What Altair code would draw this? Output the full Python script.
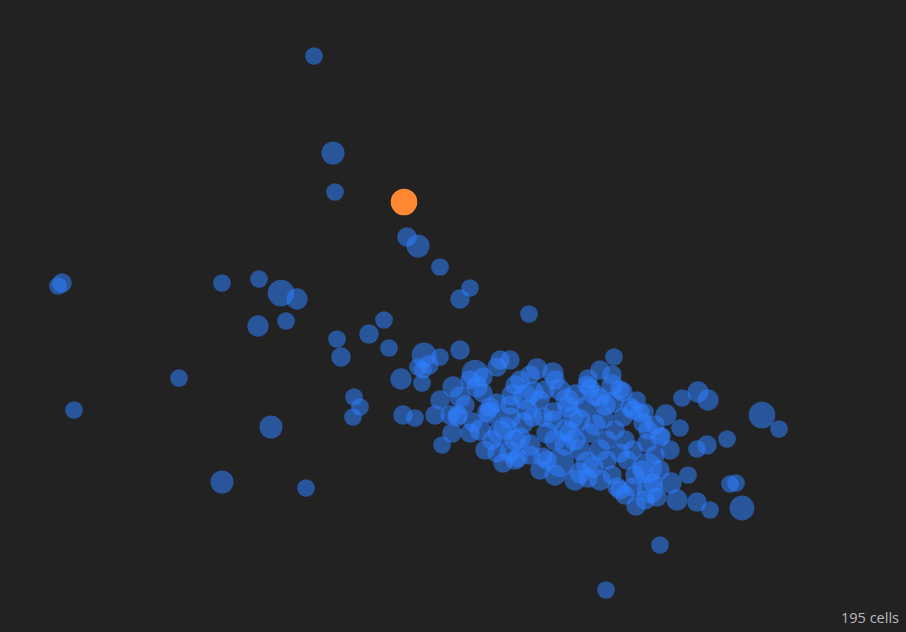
import altair as alt
import pandas as pd

# embedding coordinates (arbitrary units)
umap_1 = [
    31.4, 33.3, 33.5, 40.4, 40.7, 41.8, 44.0, 5.8, 6.2, 22.2,
    25.9, 28.1, 29.7, 47.0, 46.0, 52.9, 25.8, 28.6, 33.7, 34.1,
    36.9, 38.4, 38.9, 42.4, 44.0, 42.3, 41.8, 42.2, 40.1, 17.9,
    7.4, 27.1, 22.2, 30.6, 35.4, 36.0, 35.3, 40.3, 41.5, 44.2,
    46.0, 61.4, 60.6, 66.0, 76.2, 77.9, 74.2, 71.0, 69.7, 67.7,
    67.1, 68.8, 73.0, 73.6, 72.7, 69.7, 70.7, 68.0, 66.2, 66.6,
    68.2, 69.8, 70.8, 64.5, 63.7, 64.7, 65.0, 50.0, 49.7, 47.5,
    48.3, 45.3, 46.0, 47.7, 48.3, 49.0, 49.7, 51.2, 51.5, 45.0,
    45.8, 48.7, 51.0, 53.7, 55.3, 55.5, 58.8, 58.7, 61.2, 61.2,
    62.3, 52.0, 52.5, 53.3, 56.7, 56.8, 58.5, 60.0, 61.3, 55.3,
    63.0, 45.2, 47.0, 45.7, 49.0, 47.3, 50.0, 49.7, 50.3, 51.0,
    52.0, 53.0, 52.3, 53.3, 54.3, 54.3, 54.7, 55.3, 57.3, 57.0,
    59.0, 60.3, 62.3, 64.0, 64.3, 66.0, 56.0, 58.7, 59.3, 60.7,
    62.0, 63.3, 62.7, 62.0, 63.3, 65.3, 65.7, 54.7, 58.0, 60.7,
    64.7, 63.3, 62.0, 64.3, 51.0, 42.9, 50.5, 51.5, 49.2, 52.7,
    54.0, 54.5, 56.0, 57.5, 59.5, 60.5, 58.0, 59.5, 61.5, 62.5,
    60.0, 58.0, 56.5, 55.5, 54.0, 57.5, 60.0, 61.2, 63.5, 62.5,
    63.6, 64.5, 66.0, 65.5, 67.0, 65.5, 60.0, 59.0, 53.0, 51.0,
    48.0, 48.5, 51.5, 53.0, 51.8, 46.5, 47.0, 44.0, 43.5, 55.5,
    58.8, 61.7, 64.8, 56.5, 57.5,
]
umap_2 = [
    5.6, 15.3, 19.2, 20.2, 23.7, 24.6, 26.7, 28.6, 28.3, 28.3,
    27.9, 29.3, 29.9, 28.8, 29.9, 31.4, 32.6, 32.1, 33.9, 35.7,
    33.4, 32.0, 34.8, 35.5, 35.7, 37.0, 36.7, 38.3, 37.9, 37.8,
    41.0, 42.7, 48.2, 48.8, 39.7, 40.7, 41.7, 41.5, 41.8, 44.5,
    35.0, 35.7, 59.0, 54.5, 41.5, 42.9, 50.8, 51.0, 50.2, 50.0,
    48.3, 47.5, 48.4, 48.3, 43.9, 44.9, 44.5, 42.8, 43.6, 41.5,
    39.8, 39.2, 40.0, 41.2, 40.0, 46.8, 49.0, 36.0, 36.7, 37.3,
    37.7, 38.7, 39.7, 38.7, 39.3, 40.7, 40.3, 39.5, 38.5, 41.5,
    41.5, 41.2, 41.8, 36.9, 37.3, 38.0, 37.9, 38.5, 37.5, 38.5,
    39.2, 38.0, 39.7, 39.2, 40.0, 40.7, 40.7, 39.8, 40.2, 41.2,
    40.7, 43.3, 43.3, 41.7, 41.3, 42.2, 43.3, 45.3, 46.3, 45.2,
    43.8, 44.5, 42.3, 41.7, 41.7, 45.7, 43.3, 42.0, 41.7, 43.3,
    43.3, 41.8, 41.7, 41.3, 42.3, 43.7, 46.3, 46.3, 46.7, 46.0,
    45.3, 45.0, 46.0, 49.0, 48.7, 48.3, 49.7, 46.0, 47.3, 44.0,
    44.3, 41.0, 39.0, 47.0, 36.0, 36.5, 42.8, 44.0, 44.0, 41.0,
    40.0, 39.0, 39.0, 39.5, 39.5, 40.5, 42.0, 42.5, 43.0, 44.0,
    45.0, 45.0, 44.5, 44.0, 47.0, 48.0, 48.0, 47.5, 47.5, 49.5,
    50.6, 50.0, 47.0, 45.5, 45.0, 42.5, 37.0, 38.8, 37.5, 40.5,
    43.0, 45.0, 46.0, 45.5, 45.8, 40.5, 38.0, 40.0, 41.5, 47.5,
    47.8, 48.7, 43.0, 43.0, 44.0,
]
weight = [
    10, 13, 10, 15, 11, 13, 10, 10, 11, 10,
    10, 15, 12, 10, 11, 10, 12, 10, 10, 11,
    11, 10, 10, 14, 10, 10, 10, 10, 12, 10,
    10, 13, 13, 10, 10, 10, 10, 11, 10, 10,
    11, 10, 10, 10, 15, 10, 14, 10, 11, 12,
    12, 10, 10, 10, 10, 10, 11, 10, 10, 12,
    10, 12, 12, 10, 10, 17, 15, 11, 11, 15,
    11, 12, 12, 12, 11, 11, 11, 12, 11, 11,
    11, 11, 12, 12, 12, 11, 11, 11, 11, 12,
    11, 11, 14, 12, 13, 12, 12, 11, 12, 11,
    11, 11, 11, 11, 12, 11, 14, 11, 11, 12,
    12, 12, 12, 11, 11, 11, 12, 11, 12, 12,
    11, 12, 11, 11, 11, 11, 16, 13, 12, 11,
    11, 11, 11, 11, 11, 11, 11, 11, 12, 11,
    11, 11, 11, 11, 11, 11, 13, 12, 11, 12,
    11, 11, 12, 12, 12, 12, 12, 12, 11, 11,
    12, 12, 12, 12, 11, 12, 12, 11, 11, 11,
    11, 11, 11, 11, 11, 11, 11, 11, 11, 11,
    12, 11, 11, 11, 11, 11, 11, 11, 11, 12,
    11, 11, 11, 12, 12,
]
selected_index = 3

df = pd.DataFrame({"umap_1": umap_1, "umap_2": umap_2, "weight": weight})
df["selected"] = df.index == selected_index

x = alt.X("umap_1:Q", scale=alt.Scale(domain=[0, 90.6], nice=False, zero=False), axis=None)
y = alt.Y("umap_2:Q", scale=alt.Scale(domain=[0, 63.2], nice=False, zero=False, reverse=True), axis=None)
size = alt.Size("weight:Q", scale=alt.Scale(type="pow", exponent=2, domain=[0, 17], range=[0, 907.9]), legend=None)

base = alt.Chart(df)
blue = base.transform_filter("!datum.selected").mark_circle(
    color="#2f80ff", opacity=0.55
).encode(x=x, y=y, size=size)
orange = base.transform_filter("datum.selected").mark_circle(
    color="#ff8833", opacity=1
).encode(x=x, y=y, size=size)

label = alt.Chart(pd.DataFrame({"label": [f"{len(df)} cells"]})).mark_text(
    align="right", baseline="alphabetic", fontSize=14.5, font="Open Sans", color="#bbbbbb"
).encode(text="label:N", x=alt.value(899), y=alt.value(623))

chart = alt.layer(blue, orange, label).properties(
    width=906, height=632, background="#222222", padding=0, autosize="none"
).configure_view(stroke=None)

chart.save("out.html", embed_options={"renderer": "svg", "actions": False})
